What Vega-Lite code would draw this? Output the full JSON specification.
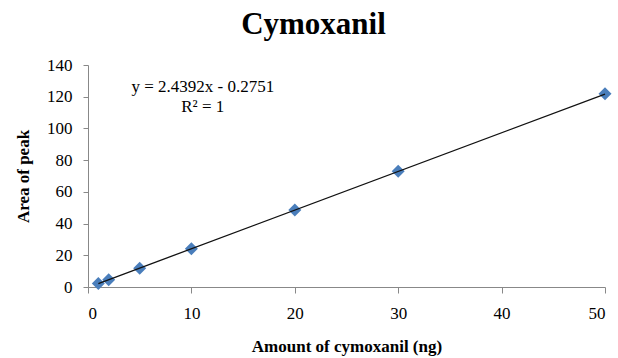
{
  "$schema": "https://vega.github.io/schema/vega-lite/v6.json",
  "width": 517,
  "height": 222,
  "autosize": "none",
  "padding": {"left": 88, "top": 65, "right": 13, "bottom": 71},
  "background": "white",
  "title": {
    "text": "Cymoxanil",
    "font": "Liberation Serif",
    "fontSize": 31,
    "fontWeight": "bold",
    "color": "black",
    "anchor": "middle",
    "dx": -33,
    "baseline": "alphabetic",
    "offset": -9
  },
  "config": {
    "font": "Liberation Serif",
    "view": {"stroke": null},
    "axis": {
      "grid": false,
      "domainColor": "#888888",
      "tickColor": "#888888",
      "labelFont": "Liberation Serif",
      "labelFontSize": 17,
      "labelColor": "black",
      "labelOverlap": false,
      "titleFont": "Liberation Serif",
      "titleFontSize": 17,
      "titleFontWeight": "bold",
      "titleColor": "black"
    }
  },
  "datasets": {
    "points": [
      {"amount": 1, "area": 2.2},
      {"amount": 2, "area": 4.6},
      {"amount": 5, "area": 11.9},
      {"amount": 10, "area": 24.1},
      {"amount": 20, "area": 48.6},
      {"amount": 30, "area": 73.0},
      {"amount": 50, "area": 121.9}
    ],
    "trend": [
      {"amount": 1, "area": 2.16},
      {"amount": 50, "area": 121.68}
    ]
  },
  "layer": [
    {
      "data": {"name": "points"},
      "mark": {"type": "point", "shape": "diamond", "filled": true, "size": 169, "color": "#4A7EBB", "opacity": 1},
      "encoding": {
        "x": {
          "field": "amount",
          "type": "quantitative",
          "scale": {"domain": [0, 50], "nice": false},
          "axis": {"values": [0, 10, 20, 30, 40, 50], "tickCount": 10, "title": "Amount of cymoxanil (ng)", "labelFont": "Liberation Serif", "titleFont": "Liberation Serif", "tickSize": 6, "labelPadding": 12, "titlePadding": 17}
        },
        "y": {
          "field": "area",
          "type": "quantitative",
          "scale": {"domain": [0, 140], "nice": false},
          "axis": {"values": [0, 20, 40, 60, 80, 100, 120, 140], "tickCount": 10, "title": "Area of peak", "labelFont": "Liberation Serif", "titleFont": "Liberation Serif", "tickSize": 5, "labelPadding": 11, "titlePadding": 14}
        }
      }
    },
    {
      "data": {"name": "trend"},
      "mark": {"type": "line", "color": "#111111", "strokeWidth": 1.3},
      "encoding": {
        "x": {"field": "amount", "type": "quantitative"},
        "y": {"field": "area", "type": "quantitative"}
      }
    },
    {
      "data": {"values": [{"label": "y = 2.4392x - 0.2751"}]},
      "mark": {"type": "text", "font": "Liberation Serif", "fontSize": 17, "color": "black", "align": "center", "baseline": "alphabetic"},
      "encoding": {
        "x": {"datum": 11.1, "type": "quantitative"},
        "y": {"datum": 123, "type": "quantitative"},
        "text": {"field": "label"}
      }
    },
    {
      "data": {"values": [{"label": "R² = 1"}]},
      "mark": {"type": "text", "font": "Liberation Serif", "fontSize": 17, "color": "black", "align": "center", "baseline": "alphabetic"},
      "encoding": {
        "x": {"datum": 11.1, "type": "quantitative"},
        "y": {"datum": 110.5, "type": "quantitative"},
        "text": {"field": "label"}
      }
    }
  ]
}
